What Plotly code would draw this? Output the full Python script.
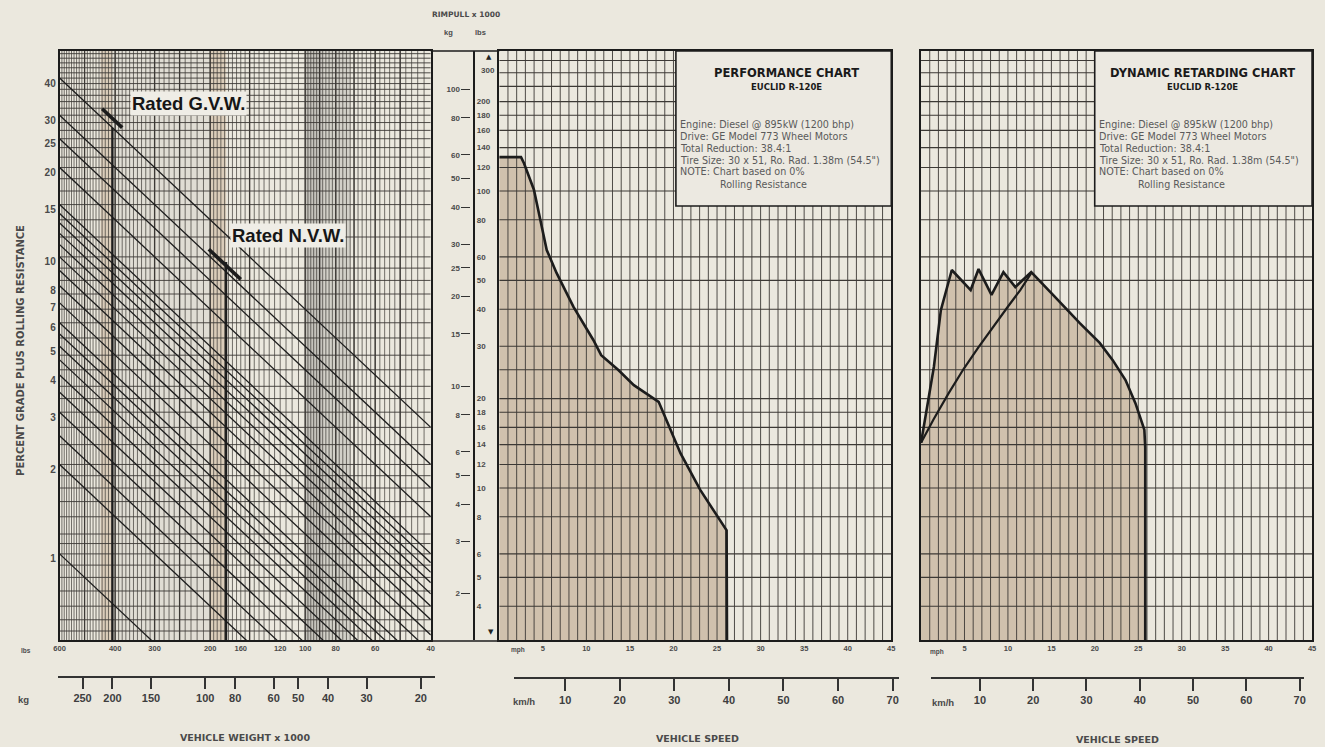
import plotly.graph_objects as go

W, H = 1325, 747
BG = '#ebe8de'
INK = '#1c1c1c'
GRID = '#3c3935'
TXT = '#4a4a4a'
FILL = 'rgba(176,146,112,0.45)'
FONT = 'Liberation Sans'
BOXFONT = 'DejaVu Sans'

# ---------------- data ----------------
# left panel: grade lines (percent grade + rolling resistance)
grade_lines = [1, 2, 2.5, 3, 3.5, 4, 4.5, 5, 5.5, 6, 7, 8, 9, 10, 11, 12, 13, 14, 15, 20, 25, 30, 40]
grade_labels = [40, 30, 25, 20, 15, 10, 8, 7, 6, 5, 4, 3, 2, 1]
weight_max_lbs = 600          # x1000 lbs, left edge
weight_min_lbs = 40           # x1000 lbs, right edge
weight_lbs_ticks = [600, 400, 300, 200, 160, 120, 100, 80, 60, 40]
weight_kg_ticks = [250, 200, 150, 100, 80, 60, 50, 40, 30, 20]

gvw_lbs = 408
gvw_grade = 40
gvw_mark_w = [440, 380]
gvw_mark_grade = 43
nvw_lbs = 178
nvw_grade = 32.4
nvw_mark_w = [202, 160]
nvw_mark_grade = 31.5

# rimpull scale (x1000)
rimpull_kg_ticks = [100, 80, 60, 50, 40, 30, 25, 20, 15, 10, 8, 6, 5, 4, 3, 2]
rimpull_lbs_ticks = [200, 180, 160, 140, 120, 100, 80, 60, 50, 40, 30, 20, 18, 16, 14, 12, 10, 8, 6, 5, 4]

# speed scales
mph_ticks = [5, 10, 15, 20, 25, 30, 35, 40, 45]
kmh_ticks = [10, 20, 30, 40, 50, 60, 70]

# performance chart (mph, rimpull x1000 lbs)
perf_mph = [0, 2.5, 2.84, 3.98, 5.45, 6.59, 8.52, 10.8, 11.7, 13.64, 15.45, 18.3, 19.66, 20.8, 23.07, 24.77, 26.1, 26.2]
perf_rimpull = [130, 130, 124, 101, 63.3, 52.9, 40.7, 31.5, 28.0, 25.0, 22.2, 19.5, 15.7, 13.1, 9.85, 8.24, 7.2, 1]

# dynamic retarding chart (mph, retarding force x1000 lbs)
ret_mph = [0, 1.48, 2.28, 3.54, 5.71, 6.62, 8.11, 9.48, 10.85, 12.68, 15.19, 18.27, 20.56, 22.04, 23.53, 24.67, 25.7, 25.8, 25.8]
ret_rimpull = [14.2, 25.6, 39.7, 54.2, 46.4, 54.6, 44.7, 53.3, 47.5, 53.3, 44.7, 35.9, 30.8, 27.0, 23.1, 19.3, 15.7, 13.7, 1]
ret_low_mph = [0, 1.48, 3.2, 4.91, 6.62, 8.34, 10.05, 11.42, 12.68]
ret_low_rimpull = [14.2, 17.1, 20.9, 25.2, 29.8, 35.1, 41.0, 46.4, 52.9]

# ---------------- geometry ----------------
def px(x):
    return x / W


def py(y):
    return 1 - y / H


L_X0, L_X1 = 54, 428
M_X0, M_X1 = 497, 892
R_X0, R_X1 = 922, 1316
P_TOP, P_BOT = 51, 640
RIM_RANGE = [0.4882, 2.4714]          # log10 of visible rimpull (x1000 lbs)
LB_TO_KG_LOG = -0.3433
RMIN, RMAX = 10 ** RIM_RANGE[0], 10 ** RIM_RANGE[1]

panel_ydom = [py(P_BOT), py(P_TOP)]

# grid positions (style)
left_v_grid = list(range(590, 200, -10)) + list(range(200, 100, -5)) + list(range(100, 40, -2))
left_v_major = [500, 400, 300, 250, 200, 150, 100, 90, 80, 70, 60, 50]
left_h_grid = [290, 280, 270, 260, 250, 240, 230, 220, 210, 200, 190, 180, 170, 160, 150, 140, 130,
               120, 110, 100, 90, 80, 70, 60, 55, 50, 45, 40, 36, 32, 28, 25, 22, 20, 18, 16, 14,
               12, 11, 10, 9, 8, 7, 6.5, 6, 5.5, 5, 4.5, 4, 3.6, 3.3]
speed_v_grid = list(range(1, 45))
speed_h_grid = [4, 5, 6, 8, 10, 12, 14, 16, 18, 20, 25, 30, 40, 50, 60, 80, 100, 120, 140,
                160, 180, 200, 225, 250, 275]

fig = go.Figure()


def lines_trace(pairs, xa, ya, color, width):
    xs, ys = [], []
    for x0, y0, x1, y1 in pairs:
        xs += [x0, x1, None]
        ys += [y0, y1, None]
    fig.add_trace(go.Scatter(x=xs, y=ys, xaxis=xa, yaxis=ya, mode='lines',
                             line=dict(color=color, width=width), hoverinfo='skip',
                             showlegend=False, connectgaps=False))


def band(w0, w1, color):
    fig.add_trace(go.Scatter(x=[w0, w1, w1, w0, w0], y=[RMIN, RMIN, RMAX, RMAX, RMIN],
                             xaxis='x', yaxis='y', mode='lines', fill='toself',
                             fillcolor=color, line=dict(width=0), hoverinfo='skip',
                             showlegend=False))


# ---- left panel background bands ----
band(408, 200, 'rgba(170,168,160,0.16)')
band(445, 408, 'rgba(185,145,110,0.32)')
band(200, 178, 'rgba(185,145,110,0.32)')
band(100, 72, 'rgba(140,140,140,0.26)')
band(100, 88, 'rgba(110,110,110,0.14)')

# ---- curve fills ----
fig.add_trace(go.Scatter(x=perf_mph + [0], y=perf_rimpull + [1], xaxis='x2', yaxis='y2',
                         mode='lines', fill='toself', fillcolor=FILL, line=dict(width=0),
                         hoverinfo='skip', showlegend=False))
fig.add_trace(go.Scatter(x=ret_mph + [0], y=ret_rimpull + [1], xaxis='x3', yaxis='y3',
                         mode='lines', fill='toself', fillcolor=FILL, line=dict(width=0),
                         hoverinfo='skip', showlegend=False))

# ---- grids ----
lines_trace([(v, RMIN, v, RMAX) for v in left_v_grid], 'x', 'y', GRID, 0.7)
lines_trace([(v, RMIN, v, RMAX) for v in left_v_major], 'x', 'y', GRID, 1.3)
lines_trace([(weight_max_lbs, v, weight_min_lbs, v) for v in left_h_grid], 'x', 'y', GRID, 0.9)
for xa, ya in (('x2', 'y2'), ('x3', 'y3')):
    lines_trace([(v, RMIN, v, RMAX) for v in speed_v_grid], xa, ya, GRID, 0.9)
    lines_trace([(0, v, 45, v) for v in speed_h_grid], xa, ya, GRID, 1.1)

# ---- grade lines ----
lines_trace([(weight_max_lbs, weight_max_lbs * g / 100, weight_min_lbs, weight_min_lbs * g / 100)
             for g in grade_lines], 'x', 'y', INK, 1.3)

# ---- rated weights ----
lines_trace([(gvw_lbs, RMIN, gvw_lbs, gvw_lbs * gvw_grade / 100),
             (nvw_lbs, RMIN, nvw_lbs, nvw_lbs * nvw_grade / 100)], 'x', 'y', INK, 2.2)
lines_trace([(gvw_mark_w[0], gvw_mark_w[0] * gvw_mark_grade / 100,
              gvw_mark_w[1], gvw_mark_w[1] * gvw_mark_grade / 100),
             (nvw_mark_w[0], nvw_mark_w[0] * nvw_mark_grade / 100,
              nvw_mark_w[1], nvw_mark_w[1] * nvw_mark_grade / 100)], 'x', 'y', INK, 3.6)

# ---- curves ----
fig.add_trace(go.Scatter(x=perf_mph, y=perf_rimpull, xaxis='x2', yaxis='y2', mode='lines',
                         line=dict(color=INK, width=2.6), hoverinfo='skip', showlegend=False))
fig.add_trace(go.Scatter(x=ret_mph, y=ret_rimpull, xaxis='x3', yaxis='y3', mode='lines',
                         line=dict(color=INK, width=2.6), hoverinfo='skip', showlegend=False))
fig.add_trace(go.Scatter(x=ret_low_mph, y=ret_low_rimpull, xaxis='x3', yaxis='y3', mode='lines',
                         line=dict(color=INK, width=2.2), hoverinfo='skip', showlegend=False))

# ---- dummy traces to instantiate auxiliary axes ----
for xa, ya, xv, yv in (('x4', 'y4', 100, 0.5), ('x5', 'y5', 30, 0.5), ('x6', 'y6', 30, 0.5),
                       ('x7', 'y7', 0.5, 100), ('x7', 'y8', 0.5, 40)):
    fig.add_trace(go.Scatter(x=[xv], y=[yv], xaxis=xa, yaxis=ya, mode='markers',
                             marker=dict(opacity=0, size=1), hoverinfo='skip', showlegend=False))

# ---------------- axes ----------------
base = dict(showgrid=False, zeroline=False, fixedrange=True)
frame = dict(showline=True, mirror=True, linecolor=INK, linewidth=1.7)
small_tf = dict(family=FONT, size=7.5, color=TXT, weight='bold')
big_tf = dict(family=FONT, size=11, color='#3e3e3e', weight='bold')

layout = dict(
    xaxis=dict(**base, **frame, type='log', domain=[px(L_X0), px(L_X1)],
               range=[2.77815, 1.60206], anchor='y', tickmode='array',
               tickvals=weight_lbs_ticks, ticktext=[str(v) for v in weight_lbs_ticks],
               ticks='', tickfont=small_tf),
    yaxis=dict(**base, **frame, type='log', domain=panel_ydom, range=RIM_RANGE, anchor='x',
               tickmode='array', tickvals=[weight_max_lbs * g / 100 for g in grade_labels],
               ticktext=[str(g) for g in grade_labels], ticks='', ticklabelshift=5,
               tickfont=dict(family=FONT, size=10, color=TXT, weight='bold')),
    xaxis2=dict(**base, **frame, domain=[px(M_X0), px(M_X1)], range=[0, 45], anchor='y2',
                tickmode='array', tickvals=mph_ticks, ticks='', tickfont=small_tf),
    yaxis2=dict(**base, **frame, type='log', domain=panel_ydom, range=RIM_RANGE, anchor='x2',
                showticklabels=False, ticks=''),
    xaxis3=dict(**base, **frame, domain=[px(R_X0), px(R_X1)], range=[0, 45], anchor='y3',
                tickmode='array', tickvals=mph_ticks, ticks='', tickfont=small_tf),
    yaxis3=dict(**base, **frame, type='log', domain=panel_ydom, range=RIM_RANGE, anchor='x3',
                showticklabels=False, ticks=''),
    # kg weight axis
    xaxis4=dict(**base, type='log', domain=[px(52), px(432)], range=[2.4788, 1.2561],
                anchor='y4', showline=True, linecolor='#333', linewidth=1.6, ticks='outside',
                ticklen=11, tickwidth=1.6, tickcolor='#333', tickmode='array',
                tickvals=weight_kg_ticks, tickfont=big_tf),
    yaxis4=dict(**base, visible=False, domain=[py(676), py(670)], range=[0, 1], anchor='x4'),
    # km/h axes
    xaxis5=dict(**base, domain=[px(512), px(900)], range=[0.65, 71.2], anchor='y5',
                showline=True, linecolor='#333', linewidth=1.6, ticks='outside', ticklen=12,
                tickwidth=1.6, tickcolor='#333', tickmode='array', tickvals=kmh_ticks,
                tickfont=big_tf),
    yaxis5=dict(**base, visible=False, domain=[py(677), py(671)], range=[0, 1], anchor='x5'),
    xaxis6=dict(**base, domain=[px(932), px(1308)], range=[0.82, 70.84], anchor='y6',
                showline=True, linecolor='#333', linewidth=1.6, ticks='outside', ticklen=12,
                tickwidth=1.6, tickcolor='#333', tickmode='array', tickvals=kmh_ticks,
                tickfont=big_tf),
    yaxis6=dict(**base, visible=False, domain=[py(677), py(671)], range=[0, 1], anchor='x6'),
    # rimpull scale strip
    xaxis7=dict(**base, visible=False, domain=[px(469), px(471)], range=[0, 1], anchor='y7'),
    yaxis7=dict(**base, type='log', domain=panel_ydom, range=RIM_RANGE, anchor='x7',
                side='right', showline=True, linecolor=INK, linewidth=1.6, ticks='',
                tickmode='array', tickvals=rimpull_lbs_ticks,
                tickfont=dict(family=FONT, size=8, color=TXT, weight='bold')),
    yaxis8=dict(**base, type='log', range=[RIM_RANGE[0] + LB_TO_KG_LOG, RIM_RANGE[1] + LB_TO_KG_LOG],
                overlaying='y7', anchor='x7', side='left', showline=False, ticks='outside',
                ticklen=9, tickwidth=1.4, tickcolor='#333', tickmode='array',
                tickvals=rimpull_kg_ticks,
                tickfont=dict(family=FONT, size=8, color=TXT, weight='bold')),
)

# ---------------- shapes ----------------
shapes = []
for yy in (P_TOP, P_BOT + 1):
    shapes.append(dict(type='line', xref='paper', yref='paper', x0=px(L_X1), x1=px(M_X0),
                       y0=py(yy), y1=py(yy), line=dict(color=INK, width=1.5)))
for x0, x1 in ((675, M_X1), (1097, R_X1)):
    shapes.append(dict(type='rect', xref='paper', yref='paper', x0=px(x0), x1=px(x1),
                       y0=py(206), y1=py(P_TOP), fillcolor='#ece9e1',
                       line=dict(color=INK, width=1.6), layer='above'))

# ---------------- annotations ----------------
anns = []


def ann(text, x, y, size, bold=True, color=TXT, xanchor='center', family=FONT, angle=0, **kw):
    anns.append(dict(text=text, x=px(x), y=py(y), xref='paper', yref='paper', showarrow=False,
                     xanchor=xanchor, yanchor='middle', textangle=angle,
                     font=dict(family=family, size=size, color=color,
                               weight='bold' if bold else 'normal'), **kw))


ann('RIMPULL x 1000', 463, 14, 7.5, family=BOXFONT)
ann('kg', 446, 33, 7.5)
ann('lbs', 478, 33, 7.5)
ann('300', 486, 70, 8)
ann('\u25b2', 487, 57, 7, color='#222', family='DejaVu Sans')
ann('\u25bc', 489, 632, 7, color='#222', family='DejaVu Sans')

ann('PERCENT GRADE PLUS ROLLING RESISTANCE', 14, 350, 10, angle=-90, family=BOXFONT)
ann('lbs', 20, 650, 6.5)
ann('kg', 18, 699, 9.5)
ann('VEHICLE WEIGHT x 1000', 241, 737, 9.5, family=BOXFONT)
ann('mph', 516, 650, 6.5)
ann('km/h', 522, 701, 9.5)
ann('VEHICLE SPEED', 697, 738, 9.5, family=BOXFONT)
ann('mph', 938, 652, 6.5)
ann('km/h', 944, 702, 9.5)
ann('VEHICLE SPEED', 1120, 739, 9.5, family=BOXFONT)

ann('Rated G.V.W.', 184, 104, 18.5, color='#161616', bgcolor='#efede6', borderpad=1)
ann('Rated N.V.W.', 284, 236, 18.5, color='#161616', bgcolor='#efede6', borderpad=1)

body = ['Engine: Diesel @ 895kW (1200 bhp)', 'Drive: GE Model 773 Wheel Motors',
        'Total Reduction: 38.4:1', 'Tire Size: 30 x 51, Ro. Rad. 1.38m (54.5")',
        'NOTE: Chart based on 0%']
for title, cx, x0 in (('PERFORMANCE CHART', 786, 677), ('DYNAMIC RETARDING CHART', 1206, 1099)):
    ann(title, cx, 73, 11.5, color='#1a1a1a', family=BOXFONT)
    ann('EUCLID R-120E', cx, 87, 8.5, color='#1a1a1a', family=BOXFONT)
    for i, t in enumerate(body):
        ann(t, x0, 124 + 12 * i, 9.6, bold=False, color='#5a5a5a', xanchor='left', family=BOXFONT)
    ann('Rolling Resistance', x0 + 40, 185, 9.6, bold=False, color='#5a5a5a', xanchor='left',
        family=BOXFONT)

fig.update_layout(**layout)
fig.update_layout(width=W, height=H, margin=dict(l=0, r=0, t=0, b=0), paper_bgcolor=BG,
                  plot_bgcolor=BG, showlegend=False, shapes=shapes, annotations=anns,
                  hovermode=False)
fig.write_html('out.html', config={'displayModeBar': False},
               post_script="document.body.style.margin='0';document.body.style.overflow='hidden';")
